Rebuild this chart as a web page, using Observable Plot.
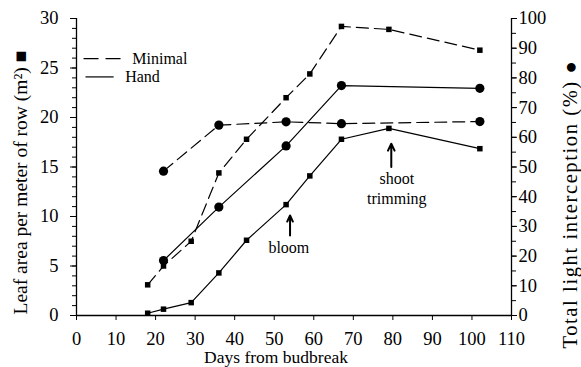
<!DOCTYPE html>
<html><head><meta charset="utf-8">
<script src="https://cdn.jsdelivr.net/npm/d3@7"></script>
<script src="https://cdn.jsdelivr.net/npm/@observablehq/plot@0.6"></script>
<style>body{margin:0;background:#fff}</style>
</head><body><div id="chart"></div>
<script>
// Leaf area (left axis, m² per meter of row)
const leafDays = [18, 22, 29, 36, 43, 53, 59, 67, 79, 102];
const minimalLeaf = [3.1, 5.0, 7.5, 14.4, 17.8, 22.0, 24.4, 29.2, 28.9, 26.8];
const handLeaf = [0.23, 0.64, 1.3, 4.3, 7.6, 11.2, 14.1, 17.8, 18.9, 16.85];
// Total light interception (right axis, %)
const lightDays = [22, 36, 53, 67, 102];
const minimalLight = [48.6, 64.1, 65.2, 64.6, 65.3];
const handLight = [18.5, 36.5, 57.1, 77.4, 76.5];
// Axis ticks
const xTicks = [0, 10, 20, 30, 40, 50, 60, 70, 80, 90, 100, 110];
const leftTicks = [0, 5, 10, 15, 20, 25, 30];
const rightTicks = [0, 10, 20, 30, 40, 50, 60, 70, 80, 90, 100];
// Annotations
const noteLabels = ["bloom", "shoot\ntrimming"];
const noteX = [53.7, 81];
const noteY = [6.95, 12.9];
const arrowX = [54, 79.6];
const arrowFrom = [8.07, 15.0];
const arrowTo = [10.1, 17.36];
// Legend
const legendNames = ["Minimal", "Hand"];

const rightScale = 30 / 100; // % -> left-axis units

const leafRows = leafDays.flatMap((d, i) => [
  {day: d, v: minimalLeaf[i], s: "Minimal"},
  {day: d, v: handLeaf[i], s: "Hand"}
]);
const lightRows = lightDays.flatMap((d, i) => [
  {day: d, v: minimalLight[i] * rightScale, s: "Minimal"},
  {day: d, v: handLight[i] * rightScale, s: "Hand"}
]);
const notes = noteLabels.map((t, i) => ({t, x: noteX[i], y: noteY[i]}));
const arrows = arrowX.map((x, i) => ({x, y1: arrowFrom[i], y2: arrowTo[i]}));
const legend = [
  {name: legendNames[0], x1: 1.78, x2: 11.17, y: 25.94, tx: 14.1, dashed: true},
  {name: legendNames[1], x1: 2.28, x2: 9.39, y: 24.1, tx: 12.3, dashed: false}
];

const font = "Liberation Serif, Times New Roman, serif";
const noText = () => "";
const tickFont = 18.5;
const rightTitle = "Total light interception (%) ●";
const chart = Plot.plot({
  width: 581, height: 367,
  marginLeft: 76, marginRight: 70, marginTop: 18, marginBottom: 52,
  style: {fontFamily: font, fontSize: "17.5px", color: "black", background: "white"},
  x: {domain: [0, 110]},
  y: {domain: [0, 30]},
  marks: [
    Plot.ruleX([0, 110], {stroke: "black", strokeWidth: 1.3}),
    Plot.ruleY([0], {stroke: "black", strokeWidth: 1.3}),
    Plot.axisX(xTicks, {anchor: "bottom", tickSize: 5, tickPadding: 11, label: null, fontSize: tickFont}),
    Plot.axisY(leftTicks, {anchor: "left", tickSize: 6, tickPadding: 12, label: null, fontSize: tickFont}),
    Plot.axisY(d3.range(0, 31, 1), {anchor: "left", tickSize: 4, tickFormat: noText, label: null}),
    Plot.axisY(rightTicks, {anchor: "right", y: d => d * rightScale, tickSize: 5, tickPadding: 2, label: null, tickFormat: d => String(d), fontSize: tickFont}),
    Plot.axisY(d3.range(0, 101, 5), {anchor: "right", y: d => d * rightScale, tickSize: 4, tickFormat: noText, label: null}),
    // lines
    Plot.line(leafRows.filter(d => d.s === "Minimal"), {x: "day", y: "v", stroke: "black", strokeWidth: 1.2, strokeDasharray: "12,6"}),
    Plot.line(leafRows.filter(d => d.s === "Hand"), {x: "day", y: "v", stroke: "black", strokeWidth: 1.2}),
    Plot.line(lightRows.filter(d => d.s === "Minimal"), {x: "day", y: "v", stroke: "black", strokeWidth: 1.2, strokeDasharray: "12,6"}),
    Plot.line(lightRows.filter(d => d.s === "Hand"), {x: "day", y: "v", stroke: "black", strokeWidth: 1.2}),
    Plot.dot(leafRows, {x: "day", y: "v", symbol: "square", r: 3.1, fill: "black"}),
    Plot.dot(lightRows, {x: "day", y: "v", symbol: "circle", r: 4.6, fill: "black"}),
    // annotations
    Plot.arrow(arrows, {x: "x", y1: "y1", y2: "y2", stroke: "black", strokeWidth: 2, headLength: 7, headAngle: 50}),
    Plot.text(notes, {x: "x", y: "y", text: "t", fontSize: 16, lineHeight: 1.2, fill: "black"}),
    // legend
    Plot.link(legend.filter(d => d.dashed), {x1: "x1", x2: "x2", y1: "y", y2: "y", stroke: "black", strokeWidth: 1.2, strokeDasharray: "15,7"}),
    Plot.link(legend.filter(d => !d.dashed), {x1: "x1", x2: "x2", y1: "y", y2: "y", stroke: "black", strokeWidth: 1.2}),
    Plot.text(legend, {x: "tx", y: "y", text: "name", textAnchor: "start", fontSize: 16, fill: "black"}),
    // axis titles
    Plot.text(["Days from budbreak"], {text: d => d, frameAnchor: "bottom", textAnchor: "middle", lineAnchor: "middle", dx: -18, dy: 42, fontSize: 17.5, fill: "black"}),
    Plot.text(["Leaf area per meter of row (m²) ■"], {text: d => d, frameAnchor: "left", textAnchor: "middle", lineAnchor: "middle", rotate: -90, dx: -56, dy: 15.5, fontSize: 19.5, fill: "black"}),
    Plot.text([rightTitle], {text: d => d, frameAnchor: "right", textAnchor: "middle", lineAnchor: "middle", rotate: -90, dx: 59, dy: 37, fontSize: 20.5, fill: "black"})
  ]
});
d3.select(chart).selectAll("text").filter(function() { return this.textContent === rightTitle; }).style("letter-spacing", "1.6px");
document.getElementById("chart").append(chart);
</script>
</body></html>
